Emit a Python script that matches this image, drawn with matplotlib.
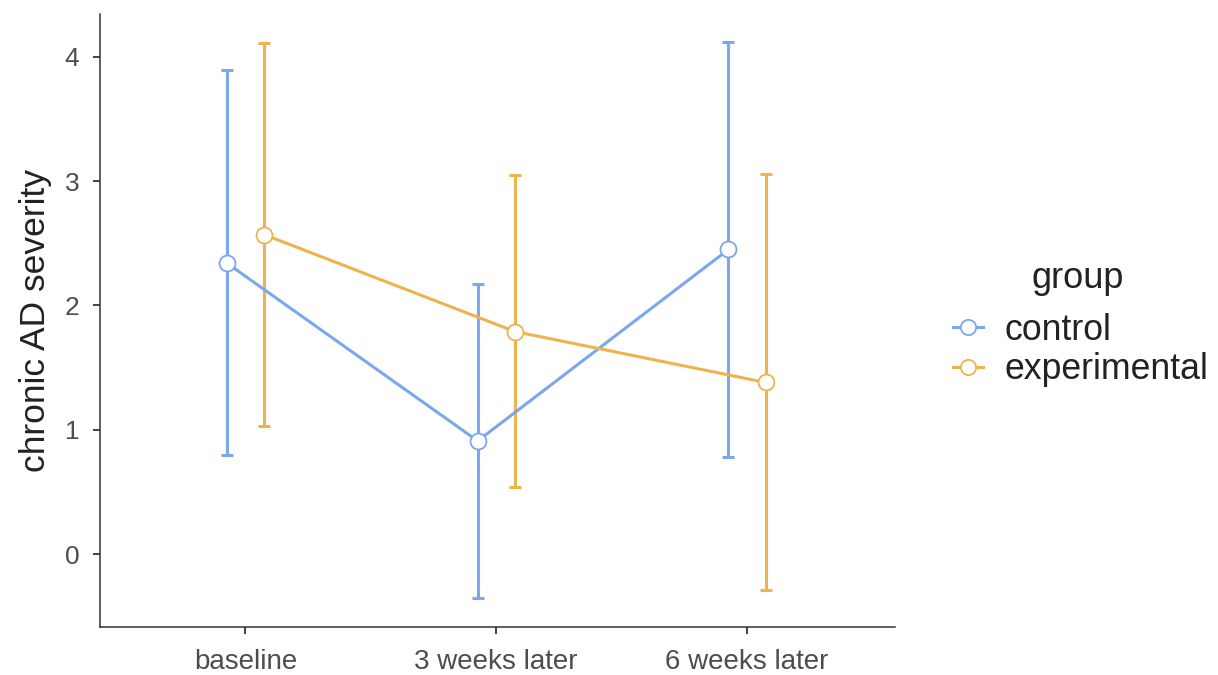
import matplotlib
matplotlib.use("Agg")
import matplotlib.pyplot as plt
import numpy as np
from matplotlib.lines import Line2D

plt.rcParams['font.family'] = ['Liberation Sans', 'DejaVu Sans']

categories = ["baseline", "3 weeks later", "6 weeks later"]
groups = ["control", "experimental"]
control_mean = [2.34, 0.91, 2.45]
control_lo = [0.80, -0.35, 0.78]
control_hi = [3.89, 2.17, 4.12]
exp_mean = [2.57, 1.79, 1.38]
exp_lo = [1.03, 0.54, -0.29]
exp_hi = [4.11, 3.05, 3.06]
colors = ["#7BA7EE", "#EBB44C"]

fig = plt.figure(figsize=(12.18, 6.75), dpi=100)
ax = fig.add_axes([100/1218, 1-627/675, 795/1218, 613/675])

x = np.arange(1, len(categories) + 1)
dodge = 0.074
series = [(control_mean, control_lo, control_hi), (exp_mean, exp_lo, exp_hi)]
for i, (m, lo, hi) in enumerate(series):
    xs = x + (-dodge if i == 0 else dodge)
    m = np.array(m); lo = np.array(lo); hi = np.array(hi)
    ax.errorbar(xs, m, yerr=[m - lo, hi - m], fmt='none', ecolor=colors[i],
                elinewidth=2.2, capsize=4.5, capthick=2.2, zorder=2)
    ax.plot(xs, m, color=colors[i], lw=2.2, zorder=3)
    ax.plot(xs, m, 'o', ms=11.5, mfc='white', mec=colors[i], mew=1.3, zorder=4)

ax.set_xlim(0.42, 3.59)
ax.set_ylim(-0.587, 4.344)
ax.set_xticks(x)
ax.set_xticklabels(categories)
ax.set_yticks([0, 1, 2, 3, 4])
ax.tick_params(axis='x', labelsize=20, colors='#333333', labelcolor='#4d4d4d',
               length=5, width=1.3, pad=10.5)
ax.tick_params(axis='y', labelsize=19, colors='#333333', labelcolor='#4d4d4d',
               length=5, width=1.3, pad=10)
for s in ['top', 'right']:
    ax.spines[s].set_visible(False)
for s in ['left', 'bottom']:
    ax.spines[s].set_color('#333333')
    ax.spines[s].set_linewidth(1.1)
ax.set_ylabel("chronic AD severity", fontsize=25.5, color='#222222', labelpad=9)

handles = [Line2D([0], [0], color=c, lw=2.2, marker='o', ms=11, mfc='white', mec=c, mew=1.3)
           for c in colors]
leg = fig.legend(handles, groups, loc='center left',
                 bbox_to_anchor=(953/1218, 1-350/675), frameon=False,
                 fontsize=25.7, handlelength=0.85, handletextpad=0.6,
                 labelspacing=0.12, borderaxespad=0, borderpad=0)
for t in leg.get_texts():
    t.set_color('#222222')
fig.text(1078/1218, 1-278/675, "group", fontsize=26, color='#222222',
         ha='center', va='center')

fig.savefig("out.png", dpi=100)
